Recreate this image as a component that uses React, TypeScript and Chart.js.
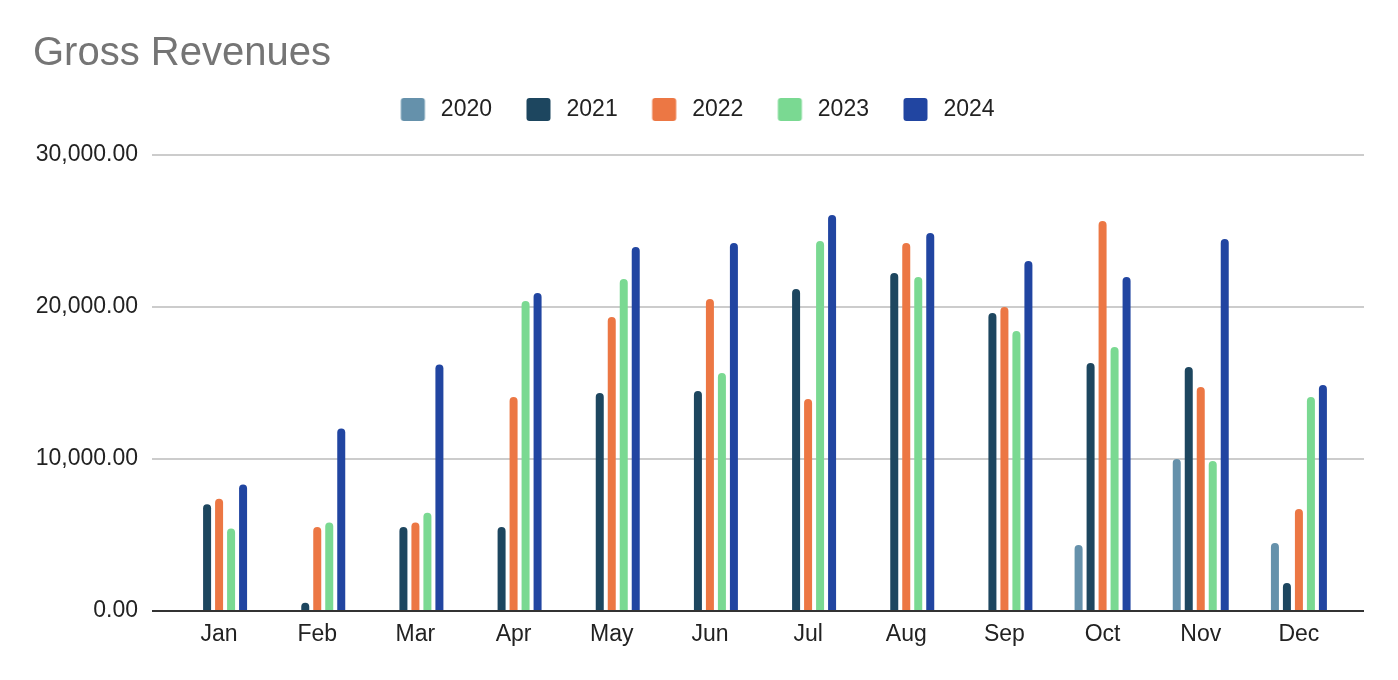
import React, { useEffect, useRef } from "react";
import { Chart, registerables } from "chart.js";

Chart.register(...registerables);

const months = ["Jan", "Feb", "Mar", "Apr", "May", "Jun", "Jul", "Aug", "Sep", "Oct", "Nov", "Dec"];
const seriesNames = ["2020", "2021", "2022", "2023", "2024"];
const seriesColors = ["#6591AB", "#1D465F", "#EC7744", "#7AD992", "#2145A1"];

const rev2020 = [null, null, null, null, null, null, null, null, null, 4340, 10000, 4470];
const rev2021 = [7020, 550, 5530, 5530, 14340, 14470, 21180, 22240, 19610, 16320, 16050, 1840];
const rev2022 = [7390, 5530, 5820, 14080, 19340, 20530, 13950, 24210, 20000, 25660, 14740, 6710];
const rev2023 = [5420, 5820, 6470, 20390, 21840, 15660, 24340, 21970, 18420, 17370, 9870, 14080];
const rev2024 = [8330, 12000, 16210, 20920, 23950, 24210, 26050, 24870, 23030, 21970, 24470, 14870];

const yTicks = [0, 10000, 20000, 30000];

const FONT = "'Liberation Sans', Arial, Helvetica, sans-serif";

function makeLegendSwatch(color: string): HTMLCanvasElement {
  const c = document.createElement("canvas");
  c.width = 43;
  c.height = 23;
  const ctx = c.getContext("2d")!;
  ctx.fillStyle = color;
  const x = 14.5, y = 0, w = 24, h = 23, r = 3;
  ctx.beginPath();
  ctx.moveTo(x + r, y);
  ctx.lineTo(x + w - r, y);
  ctx.quadraticCurveTo(x + w, y, x + w, y + r);
  ctx.lineTo(x + w, y + h - r);
  ctx.quadraticCurveTo(x + w, y + h, x + w - r, y + h);
  ctx.lineTo(x + r, y + h);
  ctx.quadraticCurveTo(x, y + h, x, y + h - r);
  ctx.lineTo(x, y + r);
  ctx.quadraticCurveTo(x, y, x + r, y);
  ctx.closePath();
  ctx.fill();
  return c;
}

const gridPlugin = {
  id: "sheetGrid",
  beforeDatasetsDraw(chart: any) {
    const { ctx, chartArea, scales } = chart;
    const y = scales.y;
    ctx.save();
    ctx.strokeStyle = "#cccccc";
    ctx.lineWidth = 2;
    yTicks.forEach((v) => {
      if (v === 0) return;
      const py = Math.round(y.getPixelForValue(v));
      ctx.beginPath();
      ctx.moveTo(chartArea.left - 18, py);
      ctx.lineTo(chartArea.right + 16, py);
      ctx.stroke();
    });
    ctx.restore();
  },
  afterDatasetsDraw(chart: any) {
    const { ctx, chartArea, scales } = chart;
    const py = Math.round(scales.y.getPixelForValue(0));
    ctx.save();
    ctx.strokeStyle = "#333333";
    ctx.lineWidth = 2;
    ctx.beginPath();
    ctx.moveTo(chartArea.left - 18, py);
    ctx.lineTo(chartArea.right + 16, py);
    ctx.stroke();
    ctx.restore();
  },
};

export default function App() {
  const ref = useRef<HTMLCanvasElement | null>(null);

  useEffect(() => {
    if (!ref.current) return;
    const values = [rev2020, rev2021, rev2022, rev2023, rev2024];
    const swatches = seriesColors.map((c) => makeLegendSwatch(c));
    const chart = new Chart(ref.current, {
      type: "bar",
      data: {
        labels: months,
        datasets: seriesNames.map((name, i) => ({
          label: name,
          data: values[i],
          backgroundColor: seriesColors[i],
          borderRadius: 4,
          borderSkipped: "start",
          categoryPercentage: 0.611,
          barPercentage: 0.667,
        })),
      },
      options: {
        responsive: false,
        animation: false,
        devicePixelRatio: 1,
        layout: { padding: { left: 25, right: 42, top: 0, bottom: 0 } },
        plugins: {
          title: {
            display: true,
            text: "Gross Revenues",
            align: "start",
            color: "#757575",
            font: { family: FONT, size: 40, weight: "normal", lineHeight: 1.2 },
            padding: { top: 22, bottom: 0 },
          },
          subtitle: {
            display: true,
            text: "",
            weight: 500,
            font: { size: 1, lineHeight: 1 },
            padding: { top: 23, bottom: 0 },
          },
          legend: {
            display: true,
            position: "top",
            align: "center",
            labels: {
              usePointStyle: true,
              pointStyleWidth: 43,
              boxHeight: 23,
              padding: 20,
              color: "#222222",
              font: { family: FONT, size: 23 },
              generateLabels: (c: any) =>
                c.data.datasets.map((ds: any, i: number) => ({
                  text: ds.label,
                  fillStyle: seriesColors[i],
                  strokeStyle: seriesColors[i],
                  lineWidth: 0,
                  pointStyle: swatches[i],
                  hidden: false,
                  datasetIndex: i,
                  fontColor: "#222222",
                })),
            },
          },
          tooltip: { enabled: false },
        },
        scales: {
          x: {
            grid: { display: false, drawTicks: false },
            border: { display: false },
            ticks: {
              color: "#222222",
              font: { family: FONT, size: 23 },
              padding: 10,
              maxRotation: 0,
              autoSkip: false,
            },
            afterFit: (s: any) => {
              s.height = 61;
            },
          },
          y: {
            min: 0,
            max: 30000,
            grid: { display: false, drawTicks: false },
            border: { display: false },
            afterBuildTicks: (s: any) => {
              s.ticks = yTicks.map((v) => ({ value: v }));
            },
            ticks: {
              color: "#222222",
              font: { family: FONT, size: 23 },
              padding: 32,
              callback: (v: any) =>
                Number(v).toLocaleString("en-US", { minimumFractionDigits: 2, maximumFractionDigits: 2 }),
            },
            afterFit: (s: any) => {
              s.width = 137;
            },
          },
        },
      },
      plugins: [gridPlugin],
    });
    return () => chart.destroy();
  }, []);

  return (
    <div style={{ width: 1382, height: 664 }}>
      <canvas ref={ref} width={1382} height={664} style={{ display: "block" }} />
    </div>
  );
}
